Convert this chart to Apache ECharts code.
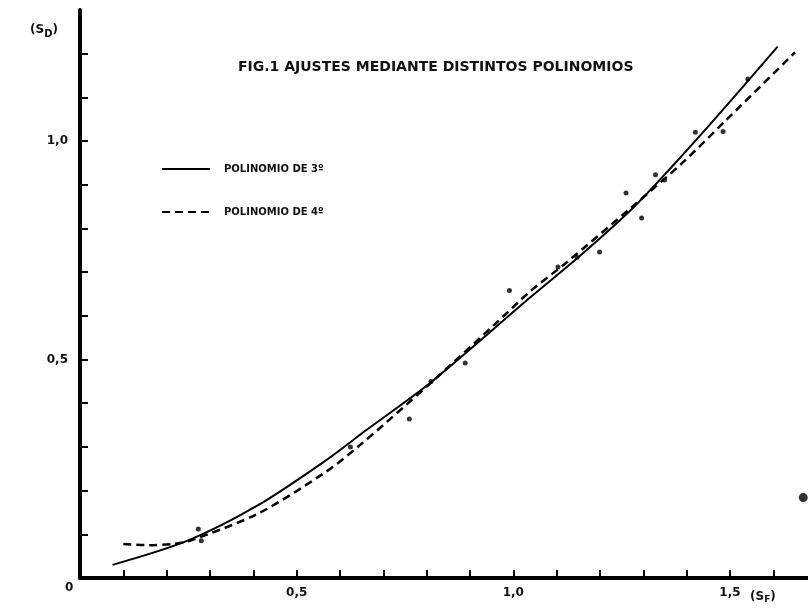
<!DOCTYPE html>
<html>
<head>
<meta charset="utf-8">
<script src="https://cdn.jsdelivr.net/npm/echarts@6/dist/echarts.min.js"></script>
<style>
html,body{margin:0;padding:0;background:#fff;}
#chart{width:808px;height:609px;}
</style>
</head>
<body>
<div id="chart"></div>
<script>
// Curve: 3rd-degree polynomial fit (solid)
const fit3Points = [
  [0.075,0.030],[0.25,0.086],[0.41,0.166],[0.56,0.264],[0.66,0.338],[0.81,0.448],
  [1.04,0.643],[1.15,0.734],[1.27,0.841],[1.36,0.935],[1.46,1.045],[1.61,1.216]
];
// 4th-degree polynomial fit (dashed)
const fit4Points = [
  [0.10,0.078],[0.16,0.075],[0.215,0.078],[0.25,0.084],[0.41,0.147],[0.56,0.238],
  [0.64,0.299],[0.81,0.447],[0.96,0.583],[1.04,0.657],[1.12,0.720],[1.27,0.846],
  [1.39,0.950],[1.49,1.047],[1.65,1.203]
];
// Observed points
const obsPoints = [
  [0.273,0.112],[0.28,0.085],[0.624,0.300],[0.76,0.364],[0.81,0.450],[0.889,0.492],
  [0.991,0.658],[1.103,0.712],[1.147,0.734],[1.199,0.746],[1.260,0.881],[1.296,0.824],
  [1.328,0.923],[1.349,0.911],[1.420,1.020],[1.484,1.022],[1.541,1.142]
];
const strayPoints = [[1.669,0.184]];
const seriesNames = ['POLINOMIO DE 3º','POLINOMIO DE 4º'];
const titleText = 'FIG.1 AJUSTES MEDIANTE DISTINTOS POLINOMIOS';

const FONT = 'DejaVu Sans';
function fmt(v){
  if (v <= 0) return '';
  if (Math.abs(v*2 - Math.round(v*2)) < 1e-6) return v.toFixed(1).replace('.', ',');
  return '';
}

const chart = echarts.init(document.getElementById('chart'), null, {renderer:'canvas'});
chart.setOption({
  animation:false,
  backgroundColor:'#fff',
  grid:{left:80, right:0, top:10, bottom:31},
  title:{
    text:titleText, left:233, top:55,
    textStyle:{fontFamily:FONT, fontWeight:'bold', fontSize:14, color:'#111'}
  },
  legend:{
    data:seriesNames, orient:'vertical', left:156, top:159,
    itemWidth:48, itemHeight:10, itemGap:33,
    itemStyle:{opacity:0},
    textStyle:{fontFamily:FONT, fontWeight:'bold', fontSize:10, color:'#111', padding:[0,0,0,9]}
  },
  xAxis:[{
    type:'value', min:0, max:1.68, interval:0.1,
    axisLine:{show:true, onZero:false, lineStyle:{color:'#000', width:4}},
    axisTick:{show:true, inside:false, length:-8, lineStyle:{color:'#000', width:2}},
    splitLine:{show:false},
    axisLabel:{formatter:fmt, margin:9, fontFamily:FONT, fontWeight:'bold', fontSize:12, color:'#111', showMaxLabel:false}
  },{
    type:'value', position:'top', min:0, max:1.68,
    axisLine:{show:true, lineStyle:{color:'#000', width:3}},
    axisTick:{show:false}, axisLabel:{show:false}, splitLine:{show:false}
  }],
  yAxis:{
    type:'value', min:0, max:1.3, interval:0.1,
    axisLine:{show:true, onZero:false, lineStyle:{color:'#000', width:4}},
    axisTick:{show:true, inside:false, length:-8, lineStyle:{color:'#000', width:2}},
    splitLine:{show:false},
    axisLabel:{formatter:fmt, margin:12, fontFamily:FONT, fontWeight:'bold', fontSize:12, color:'#111', showMaxLabel:false}
  },
  graphic:[
    {type:'text', left:65, top:582, style:{text:'0', font:'bold 12px "DejaVu Sans"', fill:'#111'}},
    {type:'text', left:30, top:24, style:{
      text:'{a|(S}{b|D}{a|)}',
      rich:{
        a:{fontFamily:FONT, fontWeight:'bold', fontSize:12, fill:'#111'},
        b:{fontFamily:FONT, fontWeight:'bold', fontSize:10, fill:'#111', padding:[8,0,0,0]}
      }
    }},
    {type:'text', left:750, top:591, style:{
      text:'{a|(S}{b|F}{a|)}',
      rich:{
        a:{fontFamily:FONT, fontWeight:'bold', fontSize:12, fill:'#111'},
        b:{fontFamily:FONT, fontWeight:'bold', fontSize:9, fill:'#111', padding:[5,0,0,0]}
      }
    }}
  ],
  series:[
    {name:seriesNames[0], type:'line', data:fit3Points, smooth:0.3, symbol:'none',
     lineStyle:{color:'#000', width:2}, itemStyle:{color:'#000'}},
    {name:seriesNames[1], type:'line', data:fit4Points, smooth:0.3, symbol:'none',
     lineStyle:{color:'#000', width:2.5, type:[8,5]}, itemStyle:{color:'#000'}},
    {name:'obs', type:'scatter', data:obsPoints, symbol:'circle', symbolSize:5,
     itemStyle:{color:'#000'}},
    {name:'stray', type:'scatter', data:strayPoints, symbol:'circle', symbolSize:9,
     itemStyle:{color:'#000'}}
  ]
});
</script>
</body>
</html>
